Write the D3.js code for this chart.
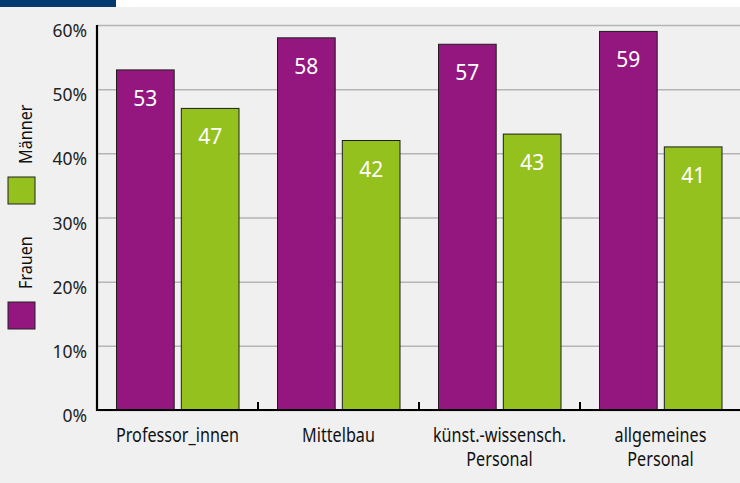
<!DOCTYPE html>
<meta charset="utf-8">
<script src="https://d3js.org/d3.v7.min.js"></script>
<body style="margin:0;background:#fff">
<div id="chart"></div>
</body>
<script>
  // data
  const categories = ["Professor_innen", "Mittelbau", "künst.-wissensch. Personal", "allgemeines Personal"];
  const catLines = [["Professor_innen"], ["Mittelbau"], ["künst.-wissensch.", "Personal"], ["allgemeines", "Personal"]];
  const series = ["Frauen", "Männer"];
  const frauen = [53, 58, 57, 59];
  const maenner = [47, 42, 43, 41];
  const yTicks = [0, 10, 20, 30, 40, 50, 60];
  const colors = {"Frauen": "#93177e", "Männer": "#95c11f"};

  const W = 740, H = 483;
  const svg = d3.select("#chart").append("svg")
    .attr("width", W).attr("height", H);

  // background + header bar
  svg.append("rect").attr("x", 0).attr("y", 7).attr("width", W).attr("height", H - 7).attr("fill", "#f0f0f0");
  svg.append("rect").attr("x", 0).attr("y", 0).attr("width", 116).attr("height", 7).attr("fill", "#003a70");

  const x0 = d3.scaleBand().domain(categories).range([97, 741]);
  const x1 = d3.scaleBand().domain(series).range([19.5, 142]).paddingInner(0.11);
  const y = d3.scaleLinear().domain([0, 60]).range([410, 25]);

  // grid + y labels
  const yAxis = svg.append("g")
    .attr("transform", "translate(97,0)")
    .attr("font-family", "'Noto Sans', sans-serif")
    .attr("font-size", 17.5)
    .call(d3.axisLeft(y).tickValues(yTicks).tickFormat(d => d + "%").tickSize(-(W - 97)).tickPadding(10));
  yAxis.attr("font-family", "'Noto Sans', sans-serif").attr("font-size", 17.5);
  yAxis.select(".domain").remove();
  yAxis.selectAll(".tick line").attr("stroke", "#b4b4b4").attr("stroke-width", 1.5);
  yAxis.selectAll(".tick text")
    .attr("dy", "0.66em")
    .attr("fill", "#222");

  // bars
  const data = categories.map((c, i) => ({cat: c, vals: [
    {s: "Frauen", v: frauen[i]}, {s: "Männer", v: maenner[i]}]}));

  const grp = svg.append("g").selectAll("g")
    .data(data).join("g")
    .attr("transform", d => `translate(${x0(d.cat)},0)`);

  grp.selectAll("rect")
    .data(d => d.vals).join("rect")
    .attr("x", d => x1(d.s))
    .attr("y", d => y(d.v))
    .attr("width", x1.bandwidth())
    .attr("height", d => y(0) - y(d.v))
    .attr("fill", d => colors[d.s])
    .attr("stroke", "#1e1e1e")
    .attr("stroke-width", 1);

  grp.selectAll("text")
    .data(d => d.vals).join("text")
    .attr("x", d => x1(d.s) + x1.bandwidth() / 2)
    .attr("y", d => y(d.v) + 36)
    .attr("text-anchor", "middle")
    .attr("fill", "#fff")
    .style("font", "21px 'Noto Sans', sans-serif")
    .text(d => d.v);

  // axes lines
  svg.append("line").attr("x1", 97).attr("x2", 97).attr("y1", 25).attr("y2", 411)
    .attr("stroke", "#000").attr("stroke-width", 2.2);
  svg.append("line").attr("x1", 96).attr("x2", W).attr("y1", 410).attr("y2", 410)
    .attr("stroke", "#000").attr("stroke-width", 2.2);
  svg.append("g").selectAll("line")
    .data(categories.slice(1)).join("line")
    .attr("x1", d => x0(d)).attr("x2", d => x0(d))
    .attr("y1", 402).attr("y2", 410)
    .attr("stroke", "#000").attr("stroke-width", 2);

  // x labels (condensed look via horizontal scale)
  const xl = svg.append("g").selectAll("text")
    .data(categories).join("text")
    .attr("transform", d => `translate(${x0(d) + x0.bandwidth() / 2},0) scale(0.83,1)`)
    .attr("text-anchor", "middle")
    .attr("fill", "#111")
    .style("font", "19.5px 'Noto Sans', sans-serif");
  xl.each(function(d, i) {
    d3.select(this).selectAll("tspan")
      .data(catLines[i]).join("tspan")
      .attr("x", 0)
      .attr("y", (t, j) => 442 + j * 24)
      .text(t => t);
  });

  // legend (rotated)
  const legend = svg.append("g");
  const legY = {"Männer": 177, "Frauen": 302};
  series.forEach(s => {
    legend.append("rect")
      .attr("x", 8).attr("y", legY[s]).attr("width", 27).attr("height", 27)
      .attr("fill", colors[s]).attr("stroke", "#222").attr("stroke-width", 1);
    legend.append("text")
      .attr("transform", `translate(32,${legY[s] - 13}) rotate(-90) scale(0.85,1)`)
      .attr("fill", "#111")
      .style("font", "19px 'Noto Sans', sans-serif")
      .text(s);
  });
</script>
